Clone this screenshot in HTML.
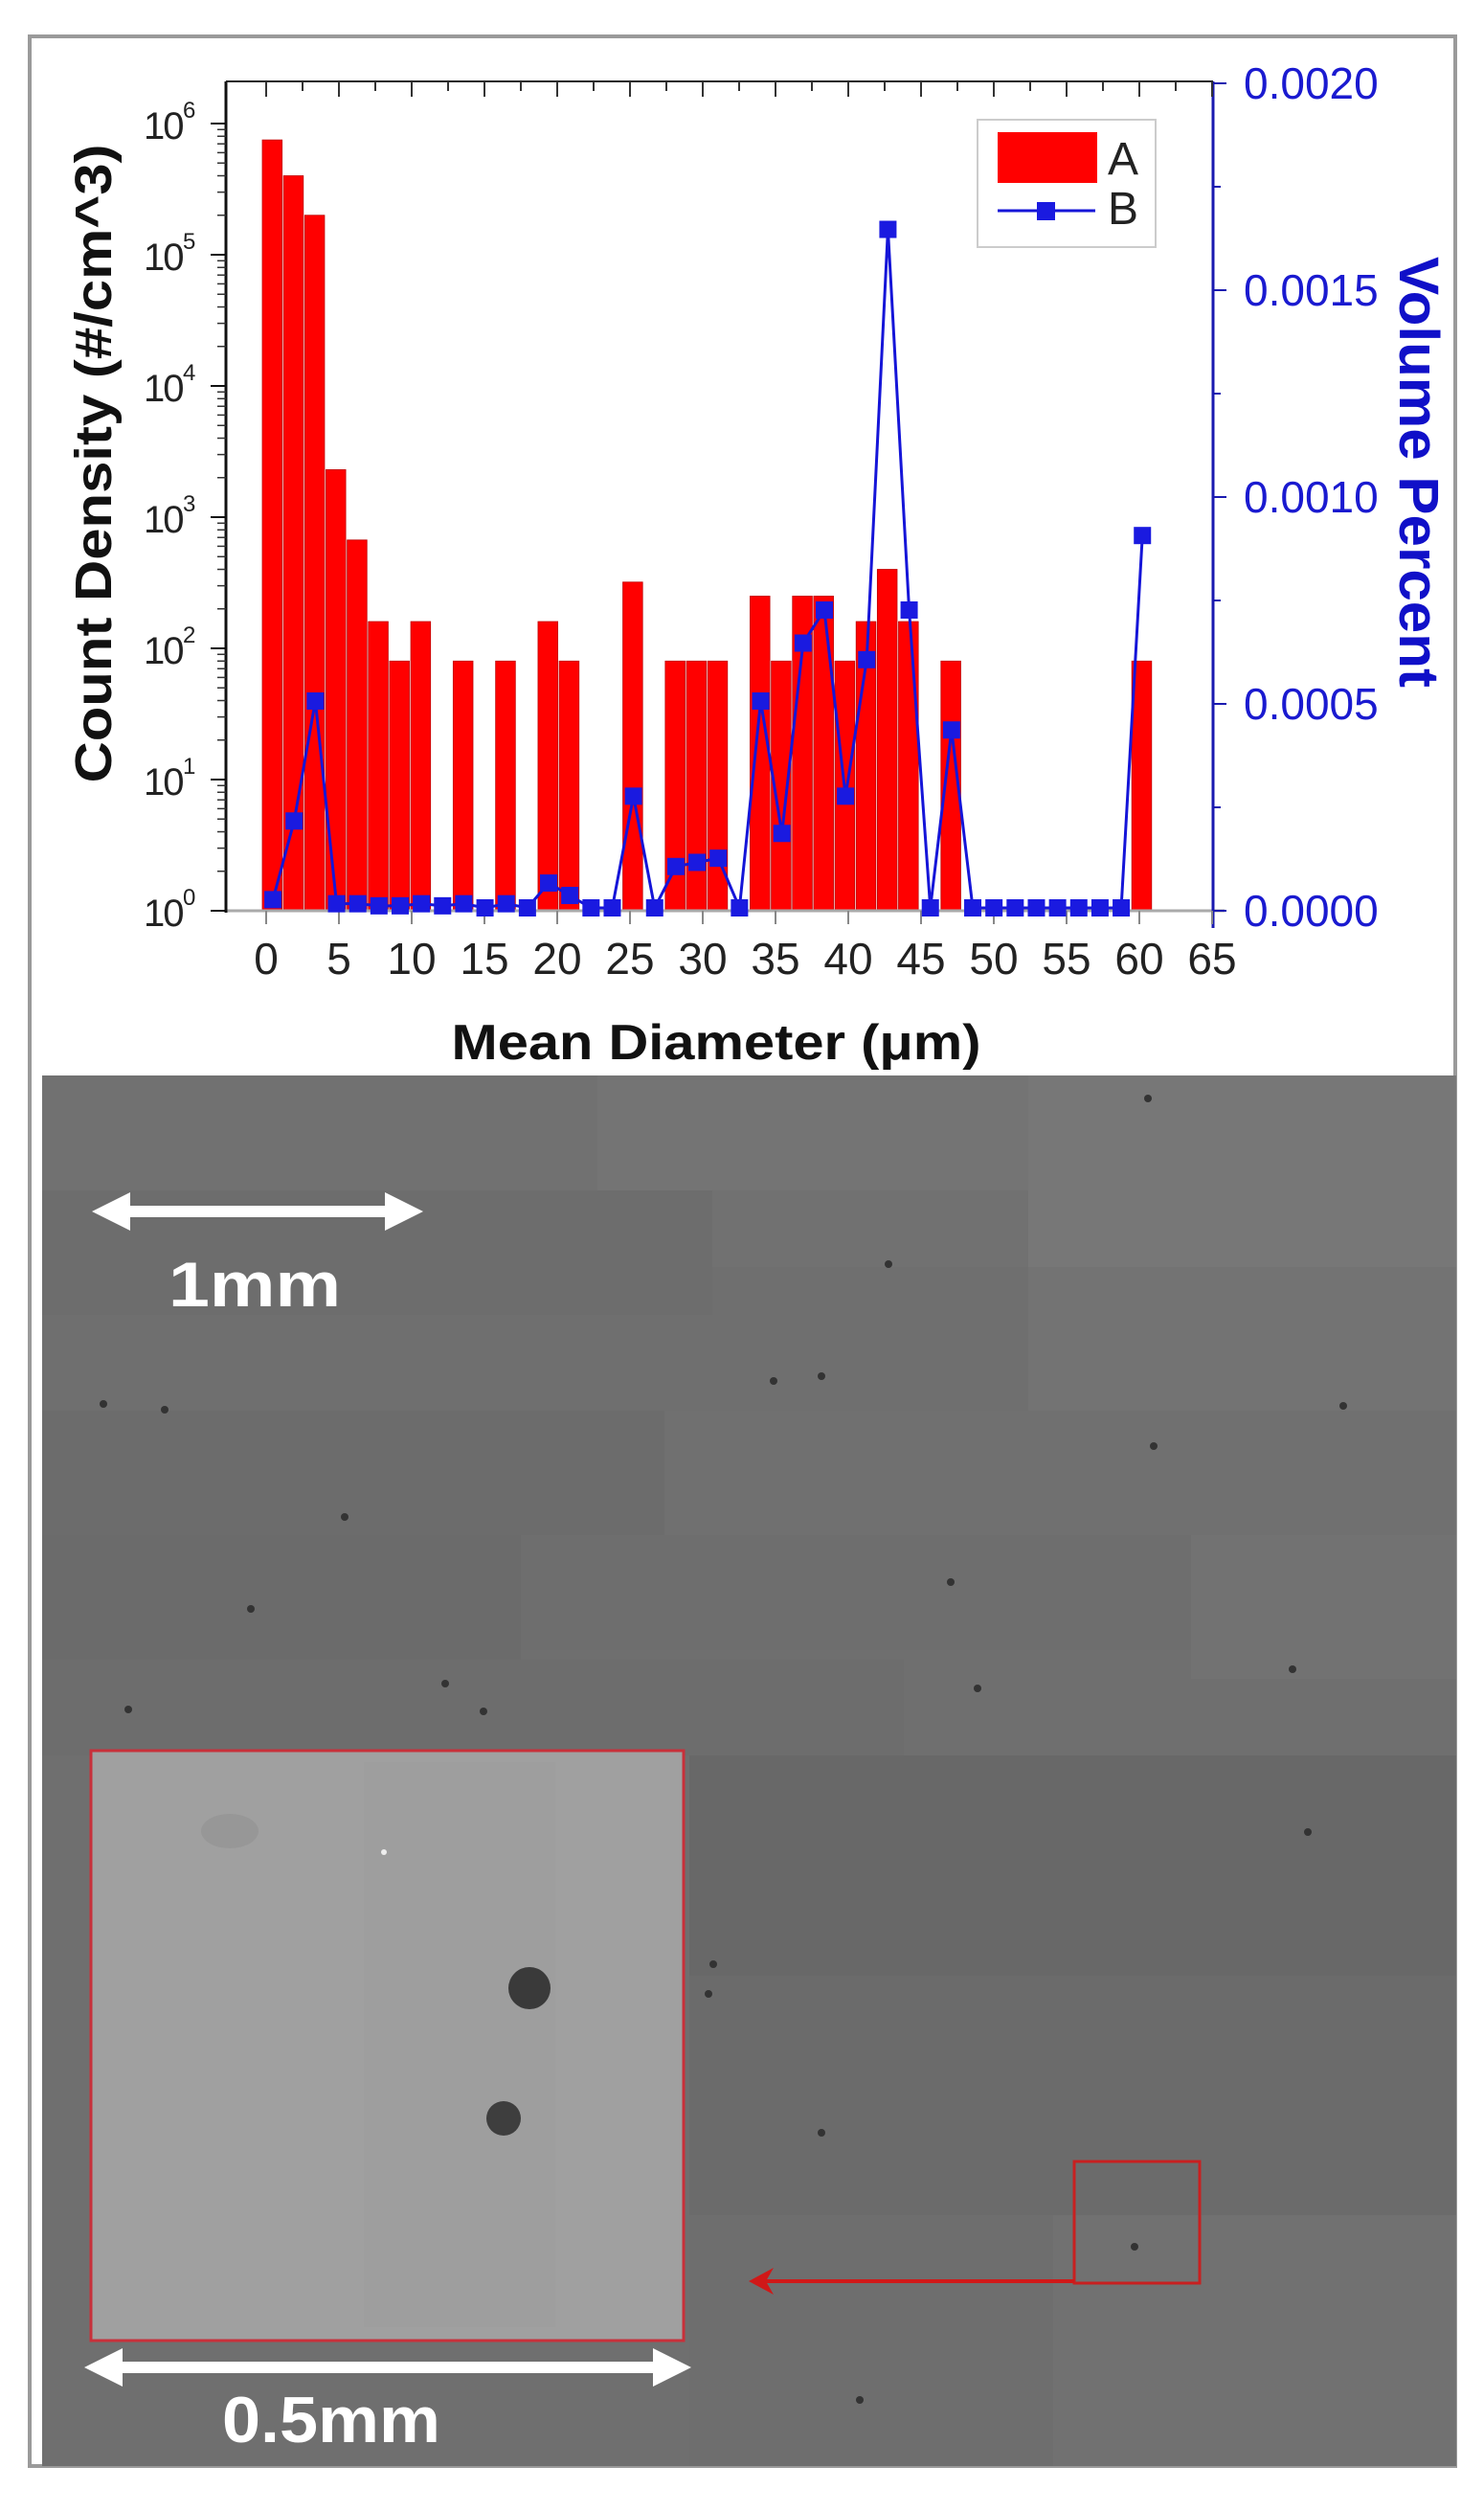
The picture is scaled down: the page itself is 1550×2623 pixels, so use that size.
<!DOCTYPE html>
<html><head><meta charset="utf-8"><style>
html,body{margin:0;padding:0;background:#fff;}
svg{display:block;}
text{font-family:"Liberation Sans",sans-serif;}
</style></head><body>
<svg id="s" width="1550" height="2623" viewBox="0 0 1550 2623" xmlns="http://www.w3.org/2000/svg">
<rect x="0" y="0" width="1550" height="2623" fill="#fff"/>
<rect x="31" y="38" width="1489" height="2537" fill="#fff" stroke="#9a9a9a" stroke-width="4"/>
<g id="img"></g>
<g id="plot"></g>
<text x="0" y="0" transform="translate(116,484) rotate(-90)" text-anchor="middle" font-size="54" font-weight="bold" fill="#111" textLength="667" lengthAdjust="spacingAndGlyphs">Count Density (#/cm^3)</text>
<text x="0" y="0" transform="translate(1462,493) rotate(90)" text-anchor="middle" font-size="58" font-weight="bold" fill="#1010c8" textLength="450" lengthAdjust="spacingAndGlyphs">Volume Percent</text>
<text x="748" y="1106" text-anchor="middle" font-size="52" font-weight="bold" fill="#111" textLength="553" lengthAdjust="spacingAndGlyphs">Mean Diameter (μm)</text>
</svg>
<script>
const NS="http://www.w3.org/2000/svg";
function el(p,t,a,txt){const e=document.createElementNS(NS,t);for(const k in a)e.setAttribute(k,a[k]);if(txt!==undefined)e.textContent=txt;p.appendChild(e);return e;}
const img=document.getElementById('img'), P=document.getElementById('plot');
el(img,'rect',{x:44,y:1123,width:1477,height:1452,fill:'#6f6f6f'});
const tiles=[[44,1123,580,120,'#717171'],[624,1123,450,120,'#747474'],[1074,1123,447,200,'#777777'],
[44,1243,700,130,'#6d6d6d'],[744,1243,330,80,'#717171'],[300,1373,900,100,'#6f6f6f'],[1074,1323,447,150,'#737373'],
[44,1473,650,130,'#6c6c6c'],[694,1473,827,130,'#707070'],[44,1603,500,130,'#6b6b6b'],[544,1603,700,120,'#6e6e6e'],
[1244,1603,277,150,'#727272'],[44,1733,900,100,'#6d6d6d'],[720,1833,801,230,'#686868'],[720,2063,801,250,'#6b6b6b'],
[720,2313,801,262,'#6e6e6e'],[1100,2313,421,262,'#717171']];
tiles.forEach(t=>el(img,'rect',{x:t[0],y:t[1],width:t[2],height:t[3],fill:t[4]}));
const dots=[[1199,1147],[928,1320],[808,1442],[858,1437],[108,1466],[172,1472],[1403,1468],[1205,1510],[360,1584],[993,1652],[262,1680],[465,1758],[134,1785],[1021,1763],[1350,1743],[505,1787],[1366,1913],[745,2051],[740,2082],[858,2227],[898,2506],[1185,2346]];
dots.forEach(d=>el(img,'circle',{cx:d[0],cy:d[1],r:4,fill:'#333'}));
el(img,'rect',{x:95,y:1828,width:619,height:616,fill:'#a0a0a0',stroke:'#c8303a','stroke-width':3});
el(img,'rect',{x:380,y:1840,width:200,height:590,fill:'#9c9c9c',opacity:0.5});
el(img,'ellipse',{cx:240,cy:1912,rx:30,ry:18,fill:'#979797'});
el(img,'circle',{cx:553,cy:2076,r:22,fill:'#3a3a3a'});
el(img,'circle',{cx:526,cy:2212,r:18,fill:'#3e3e3e'});
el(img,'circle',{cx:401,cy:1934,r:3,fill:'#eeeeee'});
el(img,'rect',{x:1122,y:2257,width:131,height:127,fill:'none',stroke:'#c82020','stroke-width':3});
el(img,'line',{x1:1122,y1:2382,x2:800,y2:2382,stroke:'#d01818','stroke-width':4});
el(img,'polygon',{points:'782,2382 808,2368 800,2382 808,2396',fill:'#d01818'});
function dbl(x1,x2,y){el(img,'rect',{x:x1+30,y:y-6,width:x2-x1-60,height:12,fill:'#fff'});
 el(img,'polygon',{points:`${x1},${y} ${x1+40},${y-20} ${x1+40},${y+20}`,fill:'#fff'});
 el(img,'polygon',{points:`${x2},${y} ${x2-40},${y-20} ${x2-40},${y+20}`,fill:'#fff'});}
dbl(96,442,1265); dbl(88,722,2472);
el(img,'text',{x:266,y:1364,'text-anchor':'middle','font-size':66,'font-weight':'bold',fill:'#fff',textLength:180,lengthAdjust:'spacingAndGlyphs'},'1mm');
el(img,'text',{x:346,y:2550,'text-anchor':'middle','font-size':68,'font-weight':'bold',fill:'#fff',textLength:228,lengthAdjust:'spacingAndGlyphs'},'0.5mm');
const L=236,R=1267,T=85,B=951,X0=278,UX=15.2,DEC=137,BW=22.15,B0=274;
const xv=v=>X0+v*UX;
const bars=[7.5e5,4e5,2e5,2300,670,160,80,160,0,80,0,80,0,160,80,0,0,320,0,80,80,80,0,250,80,250,250,80,160,400,160,0,80,0,0,0,0,0,0,0,0,80];
bars.forEach((v,i)=>{if(!v)return;const y=B-DEC*Math.log10(v);el(P,'rect',{x:B0+i*BW,y:y,width:BW-1.5,height:B-y,fill:'#ff0000',stroke:'#c00000','stroke-width':0.8});});
el(P,'line',{x1:L,y1:B,x2:R+12,y2:B,stroke:'#aaaaaa','stroke-width':3});
el(P,'line',{x1:L,y1:T,x2:L,y2:B+2,stroke:'#111','stroke-width':3});
el(P,'line',{x1:L,y1:T,x2:R,y2:T,stroke:'#222','stroke-width':2});
el(P,'line',{x1:R,y1:T,x2:R,y2:B+18,stroke:'#1a1ab0','stroke-width':3});
for(let v=0;v<=65;v+=5){const x=xv(v);el(P,'line',{x1:x,y1:B,x2:x,y2:B+14,stroke:'#888','stroke-width':2});
 el(P,'text',{x:x,y:1017,'text-anchor':'middle','font-size':46,fill:'#222','font-family':'Liberation Serif, serif'},String(v));}
for(let v=0;v<=65;v+=2.5){const x=xv(v);el(P,'line',{x1:x,y1:T,x2:x,y2:T+(v%5?10:16),stroke:'#333','stroke-width':2});}
for(let d=0;d<=6;d++){const y=B-DEC*d;el(P,'line',{x1:L-16,y1:y,x2:L,y2:y,stroke:'#111','stroke-width':2});
 el(P,'text',{x:150,y:y+16,'font-size':40,fill:'#222','letter-spacing':'-2'},'10');
 el(P,'text',{x:191,y:y-6,'font-size':24,fill:'#222'},String(d));
 if(d<6)for(let m=2;m<=9;m++){const yy=y-DEC*Math.log10(m);el(P,'line',{x1:L-9,y1:yy,x2:L,y2:yy,stroke:'#333','stroke-width':1.5});}}
for(let k=0;k<=8;k++){const y=B-k*108;el(P,'line',{x1:R,y1:y,x2:R+(k%2?8:14),y2:y,stroke:'#1a1ab0','stroke-width':2});
 if(k%2==0)el(P,'text',{x:1299,y:y+16,'font-size':46,fill:'#1a1ad0'},(k/2*0.0005).toFixed(4));}
const vals=[0.00002,0.00021,0.0005,0.00001,0.00001,0.000005,0.000005,0.00001,0.000005,0.00001,0,0.00001,0,0.00006,0.00003,0,0,0.00027,0,0.0001,0.00011,0.00012,0,0.0005,0.00018,0.00064,0.00072,0.00027,0.0006,0.00164,0.00072,0,0.00043,0,0,0,0,0,0,0,0,0.0009];
const pts=vals.map((v,i)=>[B0+i*BW+BW/2,B-3-v/0.0005*216]);
el(P,'polyline',{points:pts.map(p=>p.join(',')).join(' '),fill:'none',stroke:'#1515d8','stroke-width':3});
pts.forEach(p=>el(P,'rect',{x:p[0]-9,y:p[1]-9,width:18,height:18,fill:'#1a1ae0'}));
el(P,'rect',{x:1021,y:125,width:186,height:133,fill:'#fff',stroke:'#ccc','stroke-width':2});
el(P,'rect',{x:1042,y:138,width:104,height:53,fill:'#ff0000'});
el(P,'line',{x1:1042,y1:220,x2:1144,y2:220,stroke:'#1515d8','stroke-width':3});
el(P,'rect',{x:1083,y:211,width:19,height:19,fill:'#1a1ae0'});
el(P,'text',{x:1157,y:182,'font-size':48,fill:'#222'},'A');
el(P,'text',{x:1157,y:234,'font-size':48,fill:'#222'},'B');
</script>
</body></html>
